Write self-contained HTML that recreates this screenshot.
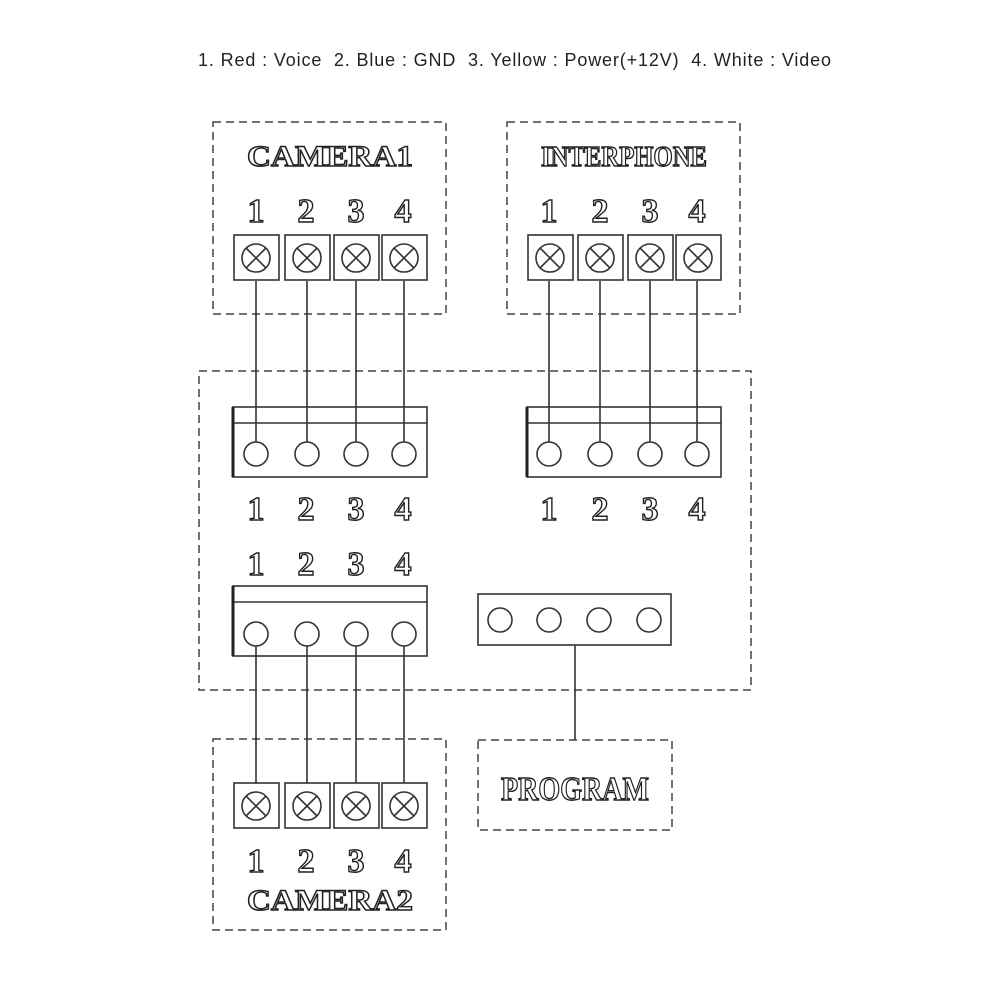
<!DOCTYPE html>
<html><head><style>body{margin:0;background:#fff}svg{display:block}</style></head><body>
<svg width="1000" height="1000" viewBox="0 0 1000 1000" xmlns="http://www.w3.org/2000/svg">
<style>
.t{font-family:"Liberation Sans",sans-serif;font-size:18px;fill:#222}
.o{font-family:"Liberation Serif",serif;font-weight:bold;fill:#fff;stroke:#222;stroke-width:1.4;text-anchor:middle}
.d{fill:none;stroke:#444;stroke-width:1.5;stroke-dasharray:8,5}
.s{fill:none;stroke:#333;stroke-width:1.6}
</style>
<text x="198" y="66" class="t" textLength="633" lengthAdjust="spacing" xml:space="preserve">1. Red : Voice  2. Blue : GND  3. Yellow : Power(+12V)  4. White : Video</text>

<rect x="213" y="122" width="233" height="192" class="d"/>
<rect x="507" y="122" width="233" height="192" class="d"/>
<rect x="199" y="371" width="552" height="319" class="d"/>
<rect x="213" y="739" width="233" height="191" class="d"/>
<rect x="478" y="740" width="194" height="90" class="d"/>

<text x="330" y="166" class="o" font-size="30" textLength="166" lengthAdjust="spacingAndGlyphs">CAMERA1</text>
<text x="624" y="166" class="o" font-size="28" textLength="166" lengthAdjust="spacingAndGlyphs">INTERPHONE</text>
<text x="330" y="910" class="o" font-size="30" textLength="166" lengthAdjust="spacingAndGlyphs">CAMERA2</text>
<text x="575" y="800" class="o" font-size="34" textLength="148" lengthAdjust="spacingAndGlyphs">PROGRAM</text>

<g class="o" font-size="34">
<text x="256" y="222">1</text><text x="306" y="222">2</text><text x="356" y="222">3</text><text x="403" y="222">4</text>
<text x="549" y="222">1</text><text x="600" y="222">2</text><text x="650" y="222">3</text><text x="697" y="222">4</text>
<text x="256" y="520">1</text><text x="306" y="520">2</text><text x="356" y="520">3</text><text x="403" y="520">4</text>
<text x="549" y="520">1</text><text x="600" y="520">2</text><text x="650" y="520">3</text><text x="697" y="520">4</text>
<text x="256" y="575">1</text><text x="306" y="575">2</text><text x="356" y="575">3</text><text x="403" y="575">4</text>
<text x="256" y="872">1</text><text x="306" y="872">2</text><text x="356" y="872">3</text><text x="403" y="872">4</text>
</g>

<defs>
<g id="tx"><rect x="-22" y="-23" width="45" height="45" class="s"/><circle r="14" class="s"/><path d="M-10,-10L10,10M10,-10L-10,10" class="s"/></g>
</defs>
<g>
<use href="#tx" x="256" y="258"/><use href="#tx" x="307" y="258"/><use href="#tx" x="356" y="258"/><use href="#tx" x="404" y="258"/>
<use href="#tx" x="550" y="258"/><use href="#tx" x="600" y="258"/><use href="#tx" x="650" y="258"/><use href="#tx" x="698" y="258"/>
<use href="#tx" x="256" y="806"/><use href="#tx" x="307" y="806"/><use href="#tx" x="356" y="806"/><use href="#tx" x="404" y="806"/>
</g>

<rect x="233" y="407" width="194" height="70" class="s"/><line x1="233" y1="423" x2="427" y2="423" class="s"/><line x1="233" y1="407" x2="233" y2="477" stroke="#222" stroke-width="3"/>
<rect x="527" y="407" width="194" height="70" class="s"/><line x1="527" y1="423" x2="721" y2="423" class="s"/><line x1="527" y1="407" x2="527" y2="477" stroke="#222" stroke-width="3"/>
<rect x="233" y="586" width="194" height="70" class="s"/><line x1="233" y1="602" x2="427" y2="602" class="s"/><line x1="233" y1="586" x2="233" y2="656" stroke="#222" stroke-width="3"/>
<rect x="478" y="594" width="193" height="51" class="s"/>

<g class="s">
<circle cx="256" cy="454" r="12"/><circle cx="307" cy="454" r="12"/><circle cx="356" cy="454" r="12"/><circle cx="404" cy="454" r="12"/>
<circle cx="549" cy="454" r="12"/><circle cx="600" cy="454" r="12"/><circle cx="650" cy="454" r="12"/><circle cx="697" cy="454" r="12"/>
<circle cx="256" cy="634" r="12"/><circle cx="307" cy="634" r="12"/><circle cx="356" cy="634" r="12"/><circle cx="404" cy="634" r="12"/>
<circle cx="500" cy="620" r="12"/><circle cx="549" cy="620" r="12"/><circle cx="599" cy="620" r="12"/><circle cx="649" cy="620" r="12"/>
</g>

<g class="s">
<path d="M256,281V442M307,281V442M356,281V442M404,281V442"/>
<path d="M549,281V442M600,281V442M650,281V442M697,281V442"/>
<path d="M256,646V783M307,646V783M356,646V783M404,646V783"/>
<path d="M575,645V740"/>
</g>
</svg>
</body></html>
